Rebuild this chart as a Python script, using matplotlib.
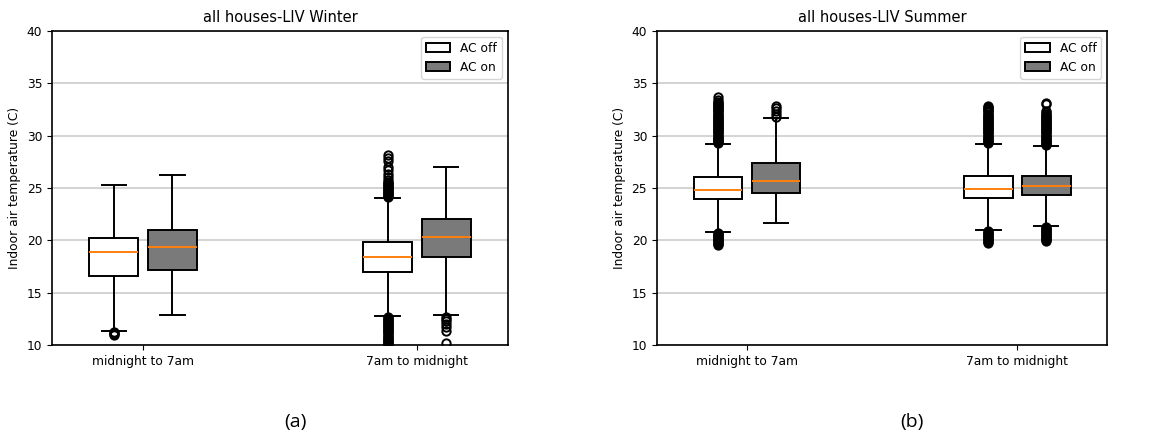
import matplotlib.pyplot as plt
from matplotlib.patches import Patch

periods = ['midnight to 7am', '7am to midnight']
series = ['AC off', 'AC on']
colors = ['white', '#7a7a7a']

# box stats: [whislo, q1, med, q3, whishi]
winter = {
    'AC off': [[11.3, 16.6, 18.9, 20.2, 25.3], [12.8, 17.0, 18.4, 19.8, 24.0]],
    'AC on': [[12.9, 17.2, 19.4, 21.0, 26.2], [12.9, 18.4, 20.3, 22.0, 27.0]],
}
summer = {
    'AC off': [[20.8, 23.9, 24.8, 26.0, 29.2], [21.0, 24.0, 24.9, 26.1, 29.2]],
    'AC on': [[21.6, 24.5, 25.7, 27.4, 31.7], [21.4, 24.3, 25.2, 26.1, 29.0]],
}

# outliers (dense runs written out)
winter_fliers = {
    'AC off': [
        [11.2, 11.1, 11.0, 10.95],
        [24.1, 24.2, 24.3, 24.4, 24.5, 24.6, 24.7, 24.8, 24.9, 25.0, 25.1, 25.2,
         25.3, 25.4, 25.5, 25.6, 25.8, 26.0, 26.3, 26.7, 27.0, 27.6, 27.9, 28.1,
         12.7, 12.6, 12.5, 12.4, 12.3, 12.2, 12.1, 12.0, 11.9, 11.8, 11.7, 11.6,
         11.5, 11.4, 11.3, 11.2, 11.1, 11.0, 10.9, 10.8, 10.7, 10.6, 10.5, 10.4,
         10.3, 10.2, 10.1, 10.0, 9.9],
    ],
    'AC on': [
        [],
        [12.7, 12.5, 12.3, 12.0, 11.7, 11.3, 10.2],
    ],
}
summer_fliers = {
    'AC off': [
        [29.3, 29.4, 29.5, 29.6, 29.7, 29.8, 29.9, 30.0, 30.1, 30.2, 30.3, 30.4,
         30.5, 30.6, 30.7, 30.8, 30.9, 31.0, 31.1, 31.2, 31.3, 31.4, 31.5, 31.6,
         31.7, 31.8, 31.9, 32.0, 32.1, 32.2, 32.3, 32.4, 32.5, 32.6, 32.7, 32.8,
         32.9, 33.0, 33.1, 33.2, 33.4, 33.7,
         20.7, 20.6, 20.5, 20.4, 20.3, 20.2, 20.1, 20.0, 19.9, 19.8, 19.7, 19.6, 19.5],
        [29.3, 29.4, 29.5, 29.6, 29.7, 29.8, 29.9, 30.0, 30.1, 30.2, 30.3, 30.4,
         30.5, 30.6, 30.7, 30.8, 30.9, 31.0, 31.1, 31.2, 31.3, 31.4, 31.5, 31.6,
         31.7, 31.8, 31.9, 32.0, 32.1, 32.2, 32.3, 32.4, 32.5, 32.6, 32.7, 32.8,
         20.9, 20.8, 20.7, 20.6, 20.5, 20.4, 20.3, 20.2, 20.1, 20.0, 19.9, 19.8, 19.7],
    ],
    'AC on': [
        [31.8, 32.1, 32.3, 32.6, 32.8],
        [29.1, 29.2, 29.3, 29.4, 29.5, 29.6, 29.7, 29.8, 29.9, 30.0, 30.1, 30.2,
         30.3, 30.4, 30.5, 30.6, 30.7, 30.8, 30.9, 31.0, 31.1, 31.2, 31.3, 31.4,
         31.5, 31.6, 31.7, 31.8, 31.9, 32.0, 32.1, 32.2, 32.3, 33.0, 33.1,
         21.3, 21.2, 21.1, 21.0, 20.9, 20.8, 20.7, 20.6, 20.5, 20.4, 20.3, 20.2,
         20.1, 20.0, 19.9],
    ],
}

titles = ['all houses-LIV Winter', 'all houses-LIV Summer']
panel_labels = ['(a)', '(b)']

plt.rcParams['font.size'] = 8.8
plt.rcParams['axes.linewidth'] = 1.2

fig = plt.figure(figsize=(11.74, 4.4), dpi=100)
ax1 = fig.add_axes([0.0443, 0.216, 0.3884, 0.714])
ax2 = fig.add_axes([0.5596, 0.216, 0.3836, 0.714])

offsets = [-0.107, 0.107]
lw = 1.4

for ax, data, fliers, title in [(ax1, winter, winter_fliers, titles[0]),
                                (ax2, summer, summer_fliers, titles[1])]:
    for s, name in enumerate(series):
        stats = []
        for p in range(len(periods)):
            lo, q1, med, q3, hi = data[name][p]
            stats.append(dict(whislo=lo, q1=q1, med=med, q3=q3, whishi=hi,
                              fliers=fliers[name][p]))
        pos = [p + 1 + offsets[s] for p in range(len(periods))]
        ax.bxp(stats, positions=pos, widths=0.18, patch_artist=True,
               boxprops=dict(facecolor=colors[s], edgecolor='black', linewidth=lw),
               whiskerprops=dict(linewidth=lw),
               capprops=dict(linewidth=lw),
               medianprops=dict(color='tab:orange', linewidth=lw),
               flierprops=dict(marker='o', markerfacecolor='none',
                               markeredgecolor='black', markeredgewidth=1.4,
                               markersize=6))
    ax.set_xticks([1, 2])
    ax.set_xticklabels(periods)
    ax.set_xlim(0.667, 2.333)
    ax.set_ylim(10, 40)
    ax.yaxis.grid(True, color='#c8c8c8', linewidth=1.1)
    ax.set_axisbelow(True)
    ax.set_ylabel('Indoor air temperature (C)')
    ax.set_title(title)
    handles = [Patch(facecolor=colors[i], edgecolor='black', linewidth=lw,
                     label=series[i])
               for i in range(len(series))]
    ax.legend(handles=handles, loc='upper right')

fig.text(0.252, 0.03, panel_labels[0], fontsize=14, family='Open Sans', ha='center')
fig.text(0.777, 0.03, panel_labels[1], fontsize=14, family='Open Sans', ha='center')

plt.savefig('out.png')
